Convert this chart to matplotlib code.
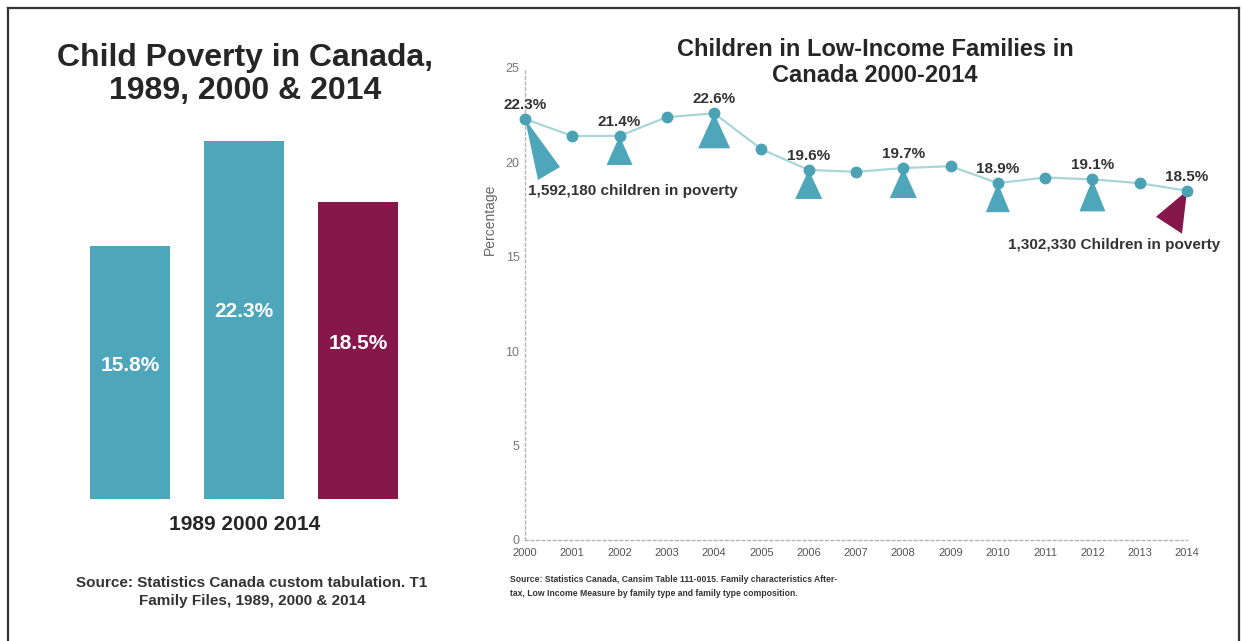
import matplotlib
matplotlib.use("Agg")
import matplotlib.pyplot as plt
from matplotlib.patches import Polygon
from matplotlib.lines import Line2D
from matplotlib.transforms import Affine2D, ScaledTranslation

# ---- data -------------------------------------------------------------
bar_years = ["1989", "2000", "2014"]
bar_rates = [15.8, 22.3, 18.5]

years = list(range(2000, 2015))
rates = [22.3, 21.4, 21.4, 22.4, 22.6, 20.7, 19.6, 19.5, 19.7, 19.8,
         18.9, 19.2, 19.1, 18.9, 18.5]
labelled_years = [2000, 2002, 2004, 2006, 2008, 2010, 2012, 2014]
y_ticks = [0, 5, 10, 15, 20, 25]
first_note = "1,592,180 children in poverty"
last_note = "1,302,330 Children in poverty"

# ---- style -------------------------------------------------------------
TEAL = "#4ea6bb"
MAROON = "#85174b"
LINE = "#a9d4da"
DARK = "#262626"
GREY = "#666666"
SANS = ["Liberation Sans", "DejaVu Sans"]
NARROW = ["Liberation Sans Narrow", "Liberation Sans", "DejaVu Sans"]

W, H = 1242, 641
fig = plt.figure(figsize=(W / 100, H / 100), dpi=100)
fig.patch.set_facecolor("white")


def fx(px):
    return px / W


def fy(py):
    return 1 - py / H


# outer frame
for xs, ys in [((8, 1239), (8, 8)), ((8, 8), (8, H)), ((1239, 1239), (8, H))]:
    fig.add_artist(Line2D([fx(x) for x in xs], [fy(y) for y in ys],
                          color="#333333", lw=1.6))

# ---- left panel: bars --------------------------------------------------
axl = fig.add_axes([fx(60), fy(499), fx(430) - fx(60), fy(130) - fy(499)])
axl.set_xlim(-0.614, 2.632)
axl.set_ylim(0, 23)
axl.axis("off")
bar_colors = [TEAL, TEAL, MAROON]
xs = list(range(len(bar_rates)))
axl.bar(xs, bar_rates, width=0.7, color=bar_colors)
for x, v in zip(xs, bar_rates):
    axl.text(x, v * 0.525, f"{v}%", color="white", ha="center", va="center",
             fontsize=15, fontweight="bold", family=SANS)

fig.text(fx(245), fy(58), "Child Poverty in Canada,", ha="center", va="center",
         fontsize=23, fontweight="bold", color=DARK, family=SANS)
fig.text(fx(245), fy(91), "1989, 2000 & 2014", ha="center", va="center",
         fontsize=23, fontweight="bold", color=DARK, family=SANS)
fig.text(fx(245), fy(525), " ".join(bar_years), ha="center", va="center",
         fontsize=15, fontweight="bold", color=DARK, family=SANS)
fig.text(fx(252), fy(583), "Source: Statistics Canada custom tabulation. T1",
         ha="center", va="center", fontsize=11, fontweight="bold",
         color="#333333", family=SANS)
fig.text(fx(252), fy(601), "Family Files, 1989, 2000 & 2014",
         ha="center", va="center", fontsize=11, fontweight="bold",
         color="#333333", family=SANS)

# ---- right panel: line -------------------------------------------------
axr = fig.add_axes([fx(525), fy(540), fx(1187) - fx(525), fy(68) - fy(540)])
axr.set_xlim(2000, 2014)
axr.set_ylim(0, 25)
for s in ("top", "right"):
    axr.spines[s].set_visible(False)
for s in ("left", "bottom"):
    axr.spines[s].set_color("#b5b5b5")
    axr.spines[s].set_linestyle((0, (2, 2)))
    axr.spines[s].set_linewidth(1.0)
axr.set_xticks(years)
axr.set_xticklabels([str(y) for y in years], family=NARROW, fontsize=8,
                    color="#555555")
axr.set_yticks(y_ticks)
axr.set_yticklabels([str(t) for t in y_ticks], family=NARROW, fontsize=9,
                    color="#777777")
axr.tick_params(length=0, pad=4)
axr.tick_params(axis="x", pad=6)

axr.plot(years, rates, color=LINE, lw=1.6, zorder=3, clip_on=False)

# pointer triangles hanging from labelled points (offsets in pixels)
pointers = {
    2000: ([(0, 0), (13, -61), (35, -48)], TEAL),
    2002: ([(0, 0), (-13, -29), (13, -29)], TEAL),
    2004: ([(0, 0), (-16, -35), (16, -35)], TEAL),
    2006: ([(0, 0), (-13.5, -29), (13.5, -29)], TEAL),
    2008: ([(0, 0), (-13.5, -30), (13.5, -30)], TEAL),
    2010: ([(0, 0), (-12, -29), (12, -29)], TEAL),
    2012: ([(0, 0), (-13, -32), (13, -32)], TEAL),
    2014: ([(0, 0), (-31, -26), (-5, -43)], MAROON),
}
for yr, (verts, col) in pointers.items():
    v = rates[years.index(yr)]
    tr = (Affine2D().scale(1 / 100) + fig.dpi_scale_trans
          + ScaledTranslation(yr, v, axr.transData))
    axr.add_patch(Polygon(verts, closed=True, facecolor=col, edgecolor="none",
                          transform=tr, zorder=2, clip_on=False))

axr.plot(years, rates, ls="none", marker="o", ms=7.5, color="#4aa2b4",
         zorder=4, clip_on=False)

for yr in labelled_years:
    v = rates[years.index(yr)]
    axr.annotate(f"{v}%", (yr, v), xytext=(0, 5), textcoords="offset points",
                 ha="center", va="bottom", fontsize=11, fontweight="bold",
                 color="#333333", family=SANS, zorder=5)

axr.annotate(first_note, (2000, rates[0]), xytext=(2, -52),
             textcoords="offset points", ha="left", va="center", fontsize=11,
             fontweight="bold", color="#333333", family=SANS)
axr.annotate(last_note, (2014, rates[-1]), xytext=(24, -39),
             textcoords="offset points", ha="right", va="center", fontsize=11,
             fontweight="bold", color="#333333", family=SANS)

axr.set_ylabel("Percentage", family=SANS, fontsize=10, color=GREY)
axr.yaxis.set_label_coords(-0.042, 0.68)

fig.text(fx(875), fy(50), "Children in Low-Income Families in", ha="center",
         va="center", fontsize=17, fontweight="bold", color=DARK, family=SANS)
fig.text(fx(875), fy(75), "Canada 2000-2014", ha="center", va="center",
         fontsize=17, fontweight="bold", color=DARK, family=SANS)

fig.text(fx(510), fy(580),
         "Source: Statistics Canada, Cansim Table 111-0015. Family characteristics After-",
         ha="left", va="center", fontsize=6.2, fontweight="bold",
         color="#333333", family=NARROW)
fig.text(fx(510), fy(593),
         "tax, Low Income Measure by family type and family type composition.",
         ha="left", va="center", fontsize=6.2, fontweight="bold",
         color="#333333", family=NARROW)

fig.savefig("out.png", dpi=100, facecolor="white")
